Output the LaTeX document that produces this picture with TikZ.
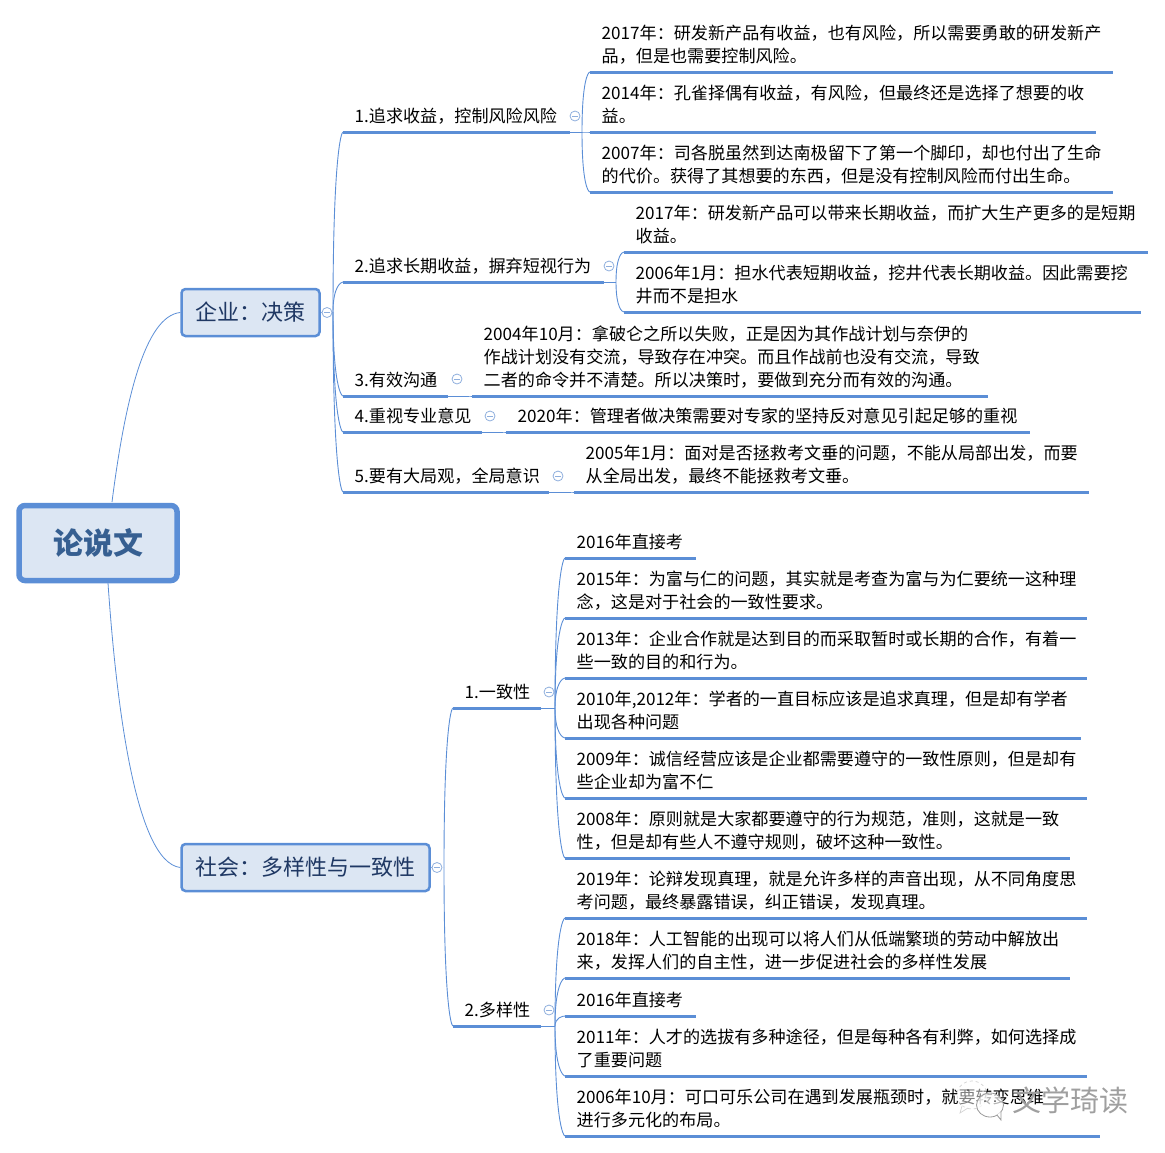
\documentclass[tikz,border=0pt]{standalone}
\usepackage{fontspec}
\setmainfont{Noto Sans CJK SC}
\usetikzlibrary{calc}
\definecolor{mapblue}{HTML}{5B8ED6}
\definecolor{mapfill}{HTML}{DCE6F3}
\definecolor{maptext}{HTML}{1F3864}
\definecolor{roottext}{HTML}{365F91}
\definecolor{togglecol}{HTML}{8FAFDD}
\tikzset{
  rootbox/.style={draw=mapblue, line width=5.5pt, fill=mapfill, rounded corners=6pt, minimum width=158pt, minimum height=75pt, text=roottext, font=\fontsize{30}{36}\selectfont\bfseries},
  groupbox/.style={draw=mapblue, line width=2.5pt, fill=mapfill, rounded corners=4pt, minimum height=47pt, text=maptext, font=\fontsize{22}{28}\selectfont},
  leaf/.style={anchor=south west, align=left, inner xsep=11.5pt, inner ysep=2.8pt, execute at end node=\strut, font=\fontsize{17.1}{23}\selectfont},
  rule/.style={mapblue, line width=3pt},
  link/.style={mapblue, line width=0.9pt, to path={.. controls ($(\tikztostart)!.85!(\tikztostart |- \tikztotarget)$) and ($(\tikztotarget)+(-2,0)$) .. (\tikztotarget)}},
  toggle/.style={circle, draw=togglecol, line width=0.8pt, fill=white, minimum size=10pt, inner sep=0pt,
    path picture={\draw[togglecol, line width=0.8pt] ([xshift=-3pt]path picture bounding box.center) -- ([xshift=3pt]path picture bounding box.center);}},
  stamp/.style={gray!75, font=\fontsize{29}{34}\selectfont}
}
\begin{document}
\begin{tikzpicture}[x=1pt, y=-1pt]
  \useasboundingbox (0,0) rectangle (1165,1152);

  % Root and the two groups
  \node[rootbox] (root) at (98,543) {论说文};
  \node[groupbox, minimum width=138pt] (corp) at (250.5,312.5) {企业：决策};
  \node[groupbox, minimum width=248pt] (soc) at (305.5,867.5) {社会：多样性与一致性};
  \draw[mapblue, line width=0.8pt] (112,502) .. controls (125,400) and (145,316) .. (corp.west);
  \draw[mapblue, line width=0.8pt] (108,583) .. controls (116,700) and (135,862) .. (soc.west);

  \coordinate (corphub) at (333,312);
  \coordinate (sochub) at (444,867);
  \node[toggle] (corptoggle) at (327,312.5) {};
  \node[toggle] (soctoggle) at (437,867.5) {};
  \draw[togglecol, line width=0.8pt] (corp.east) -- (corptoggle) (soc.east) -- (soctoggle);

  % Branches
  \foreach \n/\xa/\xb/\y/\h/\txt in {
    ba/343/570/132/corphub/{1.追求收益，控制风险风险},
    bb/343/604/282/corphub/{2.追求长期收益，摒弃短视行为},
    bc/343/448/396/corphub/{3.有效沟通},
    bd/343/482/432/corphub/{4.重视专业意见},
    be/343/549/492/corphub/{5.要有大局观，全局意识},
    bf/453/541/708/sochub/{1.一致性},
    bg/453/541/1026/sochub/{2.多样性}} {
    \pgfmathsetmacro\w{\xb-\xa-23}
    \node[leaf, text width=\w pt] (\n) at (\xa,\y) {\txt};
    \draw[rule] (\n.south west) -- (\n.south east);
    \draw[link] (\h) to (\n.south west);
  }

  \coordinate (hubA) at (582,132);
  \coordinate (hubB) at (616,282);
  \coordinate (hubC) at (469,396);
  \coordinate (hubD) at (503,432);
  \coordinate (hubE) at (571,492);
  \coordinate (hubF) at (555,708);
  \coordinate (hubG) at (555,1026);
  \foreach \n/\h/\x/\y in {ba/hubA/575/116, bb/hubB/609/266, bc/hubC/457/379, bd/hubD/490/416, be/hubE/558/476, bf/hubF/549/692, bg/hubG/549/1010} {
    \draw[mapblue, line width=0.9pt] (\n.south east) -- (\h);
    \node[toggle] at (\x,\y) {};
  }

  % Leaves
  \foreach \n/\xa/\xb/\y/\h/\txt in {
    a1/590/1113/72/hubA/{2017年：研发新产品有收益，也有风险，所以需要勇敢的研发新产\\品，但是也需要控制风险。},
    a2/590/1096/132/hubA/{2014年：孔雀择偶有收益，有风险，但最终还是选择了想要的收\\益。},
    a3/590/1113/192/hubA/{2007年：司各脱虽然到达南极留下了第一个脚印，却也付出了生命\\的代价。获得了其想要的东西，但是没有控制风险而付出生命。},
    a4/624/1148/252/hubB/{2017年：研发新产品可以带来长期收益，而扩大生产更多的是短期\\收益。},
    a5/624/1141/312/hubB/{2006年1月：担水代表短期收益，挖井代表长期收益。因此需要挖\\井而不是担水},
    a6/472/988/396/hubC/{2004年10月：拿破仑之所以失败，正是因为其作战计划与奈伊的\\作战计划没有交流，导致存在冲突。而且作战前也没有交流，导致\\二者的命令并不清楚。所以决策时，要做到充分而有效的沟通。},
    a7/506/1030/432/hubD/{2020年：管理者做决策需要对专家的坚持反对意见引起足够的重视},
    a8/574/1089/492/hubE/{2005年1月：面对是否拯救考文垂的问题，不能从局部出发，而要\\从全局出发，最终不能拯救考文垂。},
    b1/565/696/558/hubF/{2016年直接考},
    b2/565/1087/618/hubF/{2015年：为富与仁的问题，其实就是考查为富与为仁要统一这种理\\念，这是对于社会的一致性要求。},
    b3/565/1087/678/hubF/{2013年：企业合作就是达到目的而采取暂时或长期的合作，有着一\\些一致的目的和行为。},
    b4/565/1081/738/hubF/{2010年,2012年：学者的一直目标应该是追求真理，但是却有学者\\出现各种问题},
    b5/565/1087/798/hubF/{2009年：诚信经营应该是企业都需要遵守的一致性原则，但是却有\\些企业却为富不仁},
    b6/565/1070/858/hubF/{2008年：原则就是大家都要遵守的行为规范，准则，这就是一致\\性，但是却有些人不遵守规则，破坏这种一致性。},
    c1/565/1087/918/hubG/{2019年：论辩发现真理，就是允许多样的声音出现，从不同角度思\\考问题，最终暴露错误，纠正错误，发现真理。},
    c2/565/1070/978/hubG/{2018年：人工智能的出现可以将人们从低端繁琐的劳动中解放出\\来，发挥人们的自主性，进一步促进社会的多样性发展},
    c3/565/696/1016/hubG/{2016年直接考},
    c4/565/1087/1076/hubG/{2011年：人才的选拔有多种途径，但是每种各有利弊，如何选择成\\了重要问题},
    c5/565/1100/1136/hubG/{2006年10月：可口可乐公司在遇到发展瓶颈时，就要转变思维\\进行多元化的布局。}} {
    \pgfmathsetmacro\w{\xb-\xa-23}
    \node[leaf, text width=\w pt] (\n) at (\xa,\y) {\txt};
    \draw[rule] (\n.south west) -- (\n.south east);
    \draw[link] (\h) to (\n.south west);
  }

  % Watermark
  \draw[gray!35, line width=0.7pt, dashed, fill=white, fill opacity=0.5] (972,1095) ellipse (15 and 14);
  \draw[gray!35, line width=0.7pt, fill=white, fill opacity=0.5] (962,1106) -- (960,1113) -- (968,1108);
  \draw[gray!80, line width=0.8pt, fill=white, fill opacity=0.7] (990,1105) ellipse (13.5 and 12);
  \draw[gray!80, line width=0.8pt, fill=white] (997,1115) -- (1001,1120) -- (1001,1112);
  \fill[black!70] (968,1090) circle (1) (985,1101) circle (1) (995,1101) circle (1);
  \node[stamp] (wm) at (1070,1100) {文学琦读};
\end{tikzpicture}
\end{document}
